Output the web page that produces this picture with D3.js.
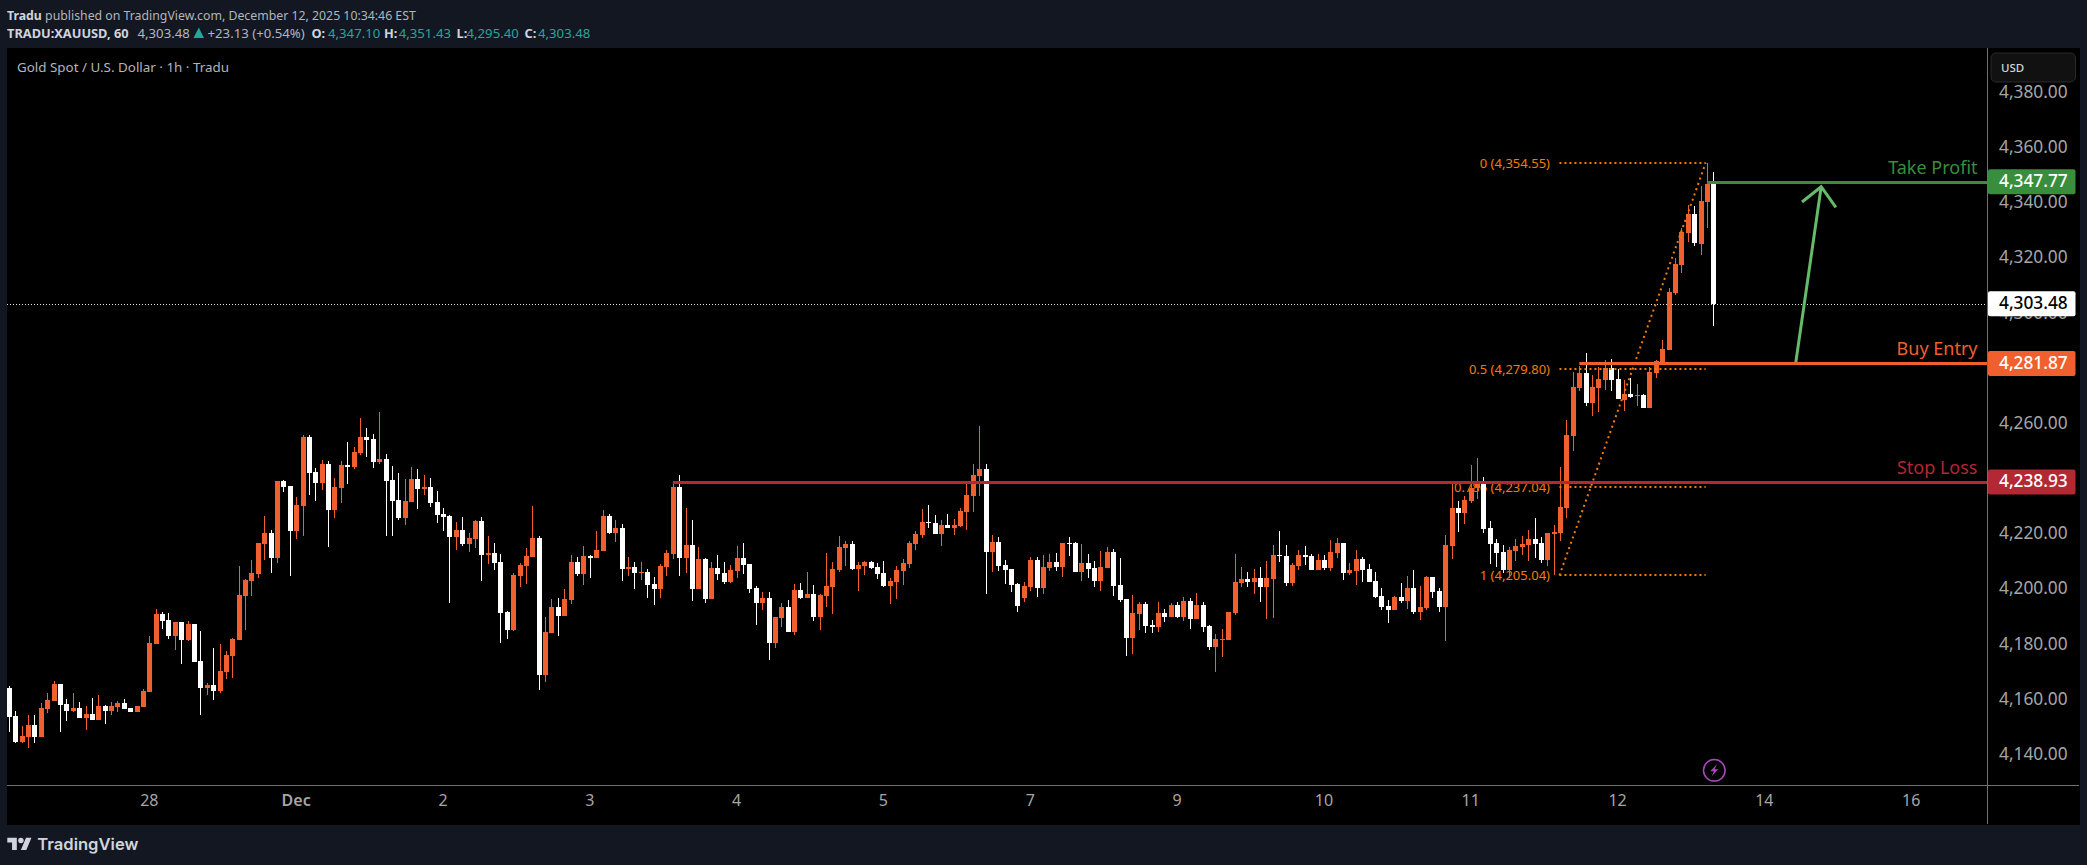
<!DOCTYPE html>
<html>
<head>
<meta charset="utf-8">
<script src="https://cdn.jsdelivr.net/npm/d3@7"></script>
<style>
	html, body { margin: 0; padding: 0; background: #131722; overflow: hidden; }
	text { font-family: "Noto Sans", sans-serif; }
</style>
</head>
<body>
<script>
// hourly candles, oldest first
var open = [
	4164.2,4154.0,4144.6,4146.4,4150.8,4146.4,4156.6,4159.5,4165.6,4158.4,
	4155.8,4156.9,4153.3,4154.8,4152.6,4157.6,4155.8,4157.3,4158.7,4156.9,
	4155.5,4157.3,4162.7,4180.1,4191.0,4188.8,4183.0,4188.1,4181.6,4187.4,
	4174.0,4164.2,4165.3,4163.1,4170.0,4175.8,4181.6,4197.5,4203.0,4205.5,
	4216.4,4220.4,4211.3,4239.2,4237.4,4221.1,4230.2,4255.2,4242.5,4238.5,
	4245.4,4228.7,4236.7,4245.0,4244.3,4249.4,4255.2,4254.5,4246.1,4247.2,
	4239.6,4232.3,4225.8,4231.6,4240.0,4236.3,4237.1,4231.6,4227.3,4226.5,
	4218.9,4221.5,4216.4,4218.2,4224.7,4212.4,4213.1,4209.9,4191.7,4185.2,
	4204.8,4208.4,4211.7,4218.6,4168.9,4184.1,4193.5,4190.3,4196.1,4209.9,
	4205.5,4212.0,4211.3,4213.8,4226.5,4220.4,4222.2,4207.3,4208.0,4205.9,
	4206.2,4201.9,4200.1,4208.0,4212.8,4237.1,4211.3,4216.0,4200.1,4211.0,
	4196.4,4207.7,4205.9,4202.6,4206.6,4211.3,4209.1,4200.4,4195.0,4196.8,
	4180.5,4189.6,4193.5,4184.5,4199.7,4196.8,4198.3,4189.9,4197.5,4200.8,
	4207.0,4214.9,4216.4,4207.3,4208.4,4209.9,4208.0,4205.9,4201.2,4202.6,
	4206.6,4209.1,4216.4,4219.6,4224.4,4224.0,4220.0,4223.3,4222.2,4222.9,
	4228.0,4233.8,4241.0,4243.6,4213.5,4217.1,4208.8,4207.3,4201.9,4196.8,
	4200.8,4210.6,4200.4,4207.7,4209.9,4208.0,4216.8,4216.8,4206.2,4209.5,
	4207.7,4203.0,4207.7,4213.5,4201.5,4196.4,4182.3,4191.0,4194.6,4187.0,
	4186.3,4191.4,4189.9,4194.3,4189.9,4195.7,4189.2,4194.3,4186.7,4179.0,
	4181.6,4181.6,4191.4,4202.2,4203.7,4202.6,4204.1,4200.8,4203.7,4212.4,
	4212.0,4202.2,4208.4,4212.4,4212.0,4207.0,4210.6,4207.7,4213.1,4216.8,
	4205.9,4206.6,4211.0,4207.3,4203.0,4197.5,4193.9,4192.5,4197.2,4195.7,
	4200.4,4191.7,4193.2,4204.4,4199.3,4193.5,4215.7,4229.4,4227.6,4232.0,
	4236.7,4238.1,4222.2,4216.8,4213.5,4207.0,4213.8,4215.3,4216.0,4218.2,
	4216.8,4210.6,4220.0,4220.4,4229.4,4255.5,4273.0,4278.4,4267.5,4273.0,
	4275.9,4280.2,4276.2,4268.6,4270.8,4270.1,4270.4,4265.7,4278.4,4282.4,
	4286.7,4307.4,4317.5,4329.2,4336.0,4325.2,4340.4,4347.10];
var high = [
	4164.9,4155.8,4150.4,4154.4,4154.4,4158.7,4162.4,4166.7,4165.6,4160.2,
	4162.4,4159.1,4157.6,4160.6,4161.6,4158.0,4159.1,4159.5,4160.2,4156.9,
	4157.6,4163.8,4183.0,4192.8,4191.7,4191.4,4188.1,4188.1,4188.5,4187.4,
	4184.8,4166.0,4178.7,4180.1,4177.6,4182.3,4208.4,4203.7,4210.6,4216.8,
	4226.5,4221.5,4239.2,4239.6,4237.4,4233.4,4255.9,4255.9,4243.9,4246.8,
	4246.5,4240.3,4246.5,4253.4,4251.6,4262.1,4258.4,4256.3,4264.2,4249.0,
	4244.7,4242.1,4240.0,4244.3,4243.6,4241.4,4240.3,4235.6,4229.4,4226.9,
	4224.4,4226.2,4220.4,4225.1,4226.2,4219.3,4216.8,4212.8,4192.1,4205.9,
	4209.5,4214.9,4230.2,4219.3,4189.9,4196.4,4196.8,4200.1,4212.4,4211.7,
	4215.7,4212.4,4221.1,4228.7,4227.3,4225.1,4223.6,4211.7,4209.9,4209.9,
	4207.3,4204.4,4209.1,4214.2,4238.5,4241.4,4229.4,4225.1,4215.3,4211.3,
	4209.9,4212.4,4209.9,4208.8,4215.7,4216.8,4209.1,4201.2,4199.0,4199.0,
	4189.9,4195.0,4196.1,4201.9,4202.2,4206.2,4201.5,4198.3,4213.1,4209.9,
	4219.3,4217.5,4217.5,4209.9,4210.2,4210.2,4209.5,4210.2,4204.1,4208.4,
	4211.0,4217.5,4221.1,4229.1,4230.5,4226.9,4225.1,4227.3,4225.5,4229.4,
	4238.9,4245.4,4259.2,4245.4,4219.6,4218.9,4210.6,4207.3,4202.2,4202.6,
	4211.7,4211.7,4212.4,4212.8,4213.1,4216.8,4218.9,4217.1,4216.4,4212.8,
	4210.2,4213.8,4215.3,4214.6,4211.3,4196.4,4197.9,4195.4,4195.4,4188.8,
	4195.4,4192.8,4195.0,4195.4,4197.2,4196.8,4198.6,4195.4,4187.0,4183.8,
	4185.6,4191.7,4212.8,4208.0,4206.2,4207.3,4208.0,4210.2,4216.0,4221.1,
	4216.0,4209.5,4214.2,4215.7,4212.8,4212.8,4212.4,4217.8,4218.6,4216.8,
	4209.5,4214.2,4211.7,4209.1,4206.2,4200.4,4196.1,4197.5,4202.2,4204.8,
	4207.0,4201.2,4204.8,4204.4,4200.4,4219.6,4238.5,4232.0,4233.8,4245.0,
	4247.6,4240.7,4224.7,4218.2,4216.0,4215.3,4218.2,4219.3,4221.5,4225.8,
	4218.9,4220.4,4223.3,4244.3,4261.3,4278.8,4280.9,4285.6,4277.7,4280.6,
	4283.1,4283.5,4279.8,4275.9,4276.7,4274.4,4270.8,4280.6,4283.1,4290.4,
	4309.2,4320.1,4331.0,4339.3,4338.9,4346.2,4354.5,4351.43];
var low = [
	4148.3,4144.2,4144.2,4142.4,4144.2,4146.4,4155.1,4159.5,4148.2,4152.2,
	4155.5,4153.3,4148.9,4152.6,4152.6,4151.1,4154.4,4155.5,4156.6,4155.5,
	4155.5,4157.3,4162.7,4180.1,4185.6,4181.9,4178.0,4172.9,4181.2,4173.6,
	4154.4,4161.6,4159.8,4162.4,4167.4,4167.8,4181.6,4185.2,4197.5,4204.1,
	4210.6,4205.9,4209.5,4235.2,4204.8,4218.2,4219.3,4234.2,4232.0,4236.0,
	4215.3,4225.8,4231.3,4238.1,4243.6,4248.7,4247.9,4243.9,4245.4,4219.3,
	4219.3,4225.1,4223.3,4231.6,4229.1,4234.2,4229.8,4224.0,4221.1,4195.0,
	4214.2,4215.7,4213.5,4214.9,4203.0,4209.1,4207.0,4180.5,4181.9,4184.8,
	4200.8,4201.9,4211.7,4163.5,4166.4,4184.1,4183.0,4190.3,4194.6,4204.8,
	4201.5,4204.1,4211.3,4213.8,4220.0,4217.1,4203.0,4204.8,4200.1,4203.3,
	4196.8,4194.3,4196.8,4204.8,4211.0,4204.8,4205.9,4195.7,4200.1,4195.0,
	4196.4,4203.3,4201.9,4202.2,4204.1,4205.5,4198.6,4187.0,4192.5,4174.3,
	4178.7,4186.3,4184.5,4183.4,4196.4,4196.8,4188.5,4185.2,4193.5,4191.0,
	4206.2,4208.4,4207.0,4199.3,4205.1,4207.3,4203.7,4200.8,4194.6,4196.4,
	4201.5,4207.7,4214.2,4218.6,4222.2,4220.0,4215.7,4222.2,4219.6,4222.6,
	4221.5,4228.0,4233.8,4198.3,4206.2,4206.6,4201.9,4199.0,4191.7,4195.4,
	4199.3,4197.2,4198.3,4206.6,4206.6,4204.4,4212.0,4206.2,4203.0,4204.1,
	4200.8,4199.3,4207.7,4197.5,4195.4,4175.8,4176.5,4185.2,4184.1,4184.1,
	4184.5,4188.1,4189.9,4189.6,4188.5,4185.6,4189.2,4184.5,4178.0,4170.0,
	4175.4,4181.6,4190.6,4200.8,4200.8,4198.3,4195.4,4189.2,4189.6,4209.9,
	4201.2,4201.2,4207.0,4208.8,4207.0,4207.0,4207.0,4206.6,4211.3,4203.3,
	4205.1,4201.5,4202.6,4202.6,4196.8,4192.5,4187.7,4192.5,4195.0,4192.8,
	4191.0,4188.8,4192.5,4196.8,4191.7,4181.2,4211.0,4220.7,4223.6,4231.3,
	4232.7,4220.4,4209.1,4208.0,4205.9,4204.1,4210.2,4212.4,4210.2,4211.3,
	4209.5,4208.4,4205.1,4217.5,4225.8,4250.1,4271.9,4266.4,4262.8,4264.2,
	4272.2,4271.9,4269.0,4264.6,4269.3,4266.4,4265.7,4265.7,4276.6,4282.0,
	4286.7,4306.7,4314.6,4325.9,4324.4,4321.2,4331.0,4295.40];
var close = [
	4153.8,4144.6,4146.8,4150.8,4146.4,4156.9,4159.8,4165.6,4158.0,4155.8,
	4156.9,4153.3,4154.8,4152.6,4157.6,4155.8,4157.6,4158.7,4156.6,4155.5,
	4157.6,4163.1,4180.5,4191.0,4188.5,4183.0,4188.1,4181.6,4187.4,4173.6,
	4164.2,4165.3,4163.1,4170.3,4176.1,4181.9,4197.9,4203.3,4205.9,4216.8,
	4220.4,4211.3,4239.2,4237.1,4221.1,4230.5,4255.2,4242.1,4238.5,4245.4,
	4228.7,4237.1,4245.0,4244.3,4249.7,4255.2,4254.1,4246.1,4247.2,4239.2,
	4232.0,4225.8,4232.0,4240.0,4236.3,4237.1,4231.3,4226.9,4226.2,4218.9,
	4221.5,4216.4,4218.6,4224.7,4212.4,4213.1,4209.5,4191.4,4185.2,4205.1,
	4208.8,4212.0,4218.6,4168.9,4184.5,4193.5,4190.3,4196.4,4209.9,4205.5,
	4212.0,4211.3,4214.2,4226.5,4220.4,4222.2,4207.3,4208.0,4205.9,4206.2,
	4201.5,4200.1,4208.4,4213.1,4237.1,4211.3,4216.0,4200.1,4211.0,4196.4,
	4207.7,4205.5,4202.6,4207.0,4211.3,4208.8,4200.1,4195.0,4196.8,4180.5,
	4189.9,4193.5,4184.5,4199.7,4196.8,4198.3,4189.9,4197.9,4201.2,4207.3,
	4215.3,4216.4,4207.3,4208.8,4209.9,4207.7,4205.5,4201.2,4203.0,4207.0,
	4209.5,4216.8,4220.0,4224.4,4224.0,4220.0,4223.3,4222.2,4223.3,4228.4,
	4234.2,4241.4,4243.6,4213.5,4217.1,4208.4,4207.0,4201.5,4193.9,4201.2,
	4210.6,4200.4,4208.0,4209.9,4208.0,4216.8,4216.4,4206.2,4209.5,4207.3,
	4203.0,4208.0,4213.5,4201.2,4196.1,4182.3,4191.4,4194.6,4186.7,4186.3,
	4191.4,4189.9,4194.3,4189.9,4195.7,4189.2,4194.3,4186.3,4179.0,4181.9,
	4181.9,4191.7,4202.6,4203.7,4202.6,4204.1,4200.8,4204.1,4212.4,4212.0,
	4202.2,4208.8,4212.4,4211.7,4207.0,4210.6,4207.7,4213.5,4216.8,4205.9,
	4207.0,4211.0,4207.0,4202.6,4197.2,4193.5,4192.5,4197.2,4195.7,4200.4,
	4191.7,4193.5,4204.4,4199.0,4193.5,4216.0,4229.4,4227.6,4232.3,4236.7,
	4238.1,4221.8,4216.4,4213.1,4207.0,4214.2,4215.7,4216.4,4218.2,4216.4,
	4210.6,4220.4,4220.7,4229.8,4255.9,4273.3,4278.4,4267.5,4273.3,4276.2,
	4280.2,4275.9,4269.0,4270.8,4269.7,4270.4,4265.7,4278.8,4282.7,4287.1,
	4307.8,4317.9,4329.5,4336.0,4325.5,4340.8,4346.9,4303.48];

// axes, 4,240 and 4,280 sit fully behind the level tags so they are left out
var price_ticks = [4140,4160,4180,4200,4220,4260,4300,4320,4340,4360,4380];
var time_ticks = [22,45,68,91,114,137,160,183,206,229,252,275,298];
var time_labels = ['28','Dec','2','3','4','5','7','9','10','11','12','14','16'];

// horizontal levels
var level_names = ['Take Profit','Buy Entry','Stop Loss'];
var level_prices = [4347.77,4281.87,4238.93];
var level_start_bars = [266,246,104];
var last_price = 4303.48;

// fibonacci drawing
var fib_ratios = ['0','0.5','0.786','1'];
var fib_prices = [4354.55,4279.80,4237.04,4205.04];
var fib_start_bar = 242.9;
var fib_end_bar = 265.8;

// arrow drawing, in bars and prices
var arrow_bars = [279.9,283.9,280.9,286.2];
var arrow_prices = [4281.87,4345.95,4340.4,4338.5];

// header readout
var readout_names = ['O:','H:','L:','C:'];
var readout_values = ['4,347.10','4,351.43','4,295.40','4,303.48'];

var width = 2087, height = 865;
var up_color = '#f05f2e', down_color = '#ffffff';
var level_colors = ['#388e3c','#f05f2e','#b22833'];
var fib_color = '#f57c00';
var axis_color = '#6f7072', tick_color = '#a6a6a6';
var fmt = d3.format(',.2f');

var x = d3.scaleLinear().domain([0,267]).range([8.9,1713.3]);
var y = d3.scaleLinear().domain([4380,4140]).range([92.8,754.8]);

var svg = d3.select('body').append('svg')
	.attr('width', width)
	.attr('height', height)
	.style('display', 'block');

// page and pane backgrounds
svg.append('rect').attr('width', width).attr('height', height).attr('fill', '#131722');
svg.append('rect').attr('x', 7).attr('y', 48).attr('width', 2073).attr('height', 777).attr('fill', '#000');

// header lines
var head1 = svg.append('text').attr('x', 7).attr('y', 19.5).attr('font-size', 12.3).attr('fill', '#b2b5be');
head1.append('tspan').attr('font-weight', 700).attr('fill', '#d1d4dc').text('Tradu');
head1.append('tspan').text(' published on TradingView.com, December 12, 2025 10:34:46 EST');

svg.append('text').attr('x', 7).attr('y', 37.5).attr('font-size', 12.8).attr('font-weight', 700).attr('fill', '#d1d4dc').text('TRADU:XAUUSD, 60');
svg.append('text').attr('x', 137.5).attr('y', 37.5).attr('font-size', 13.2).attr('fill', '#b2b5be').text('4,303.48');
svg.append('path').attr('d', 'M193.5 38L198.8 27.5L204 38Z').attr('fill', '#26a69a');
svg.append('text').attr('x', 207.5).attr('y', 37.5).attr('font-size', 13.2).attr('fill', '#b2b5be').text('+23.13 (+0.54%)');
[311.5,384,456.5,524.5].forEach(function(px, i) {
	svg.append('text').attr('x', px).attr('y', 37.5).attr('font-size', 12.8).attr('font-weight', 700).attr('fill', '#d1d4dc').text(readout_names[i]);
});
[328,398.7,466.5,538].forEach(function(px, i) {
	svg.append('text').attr('x', px).attr('y', 37.5).attr('font-size', 13.2).attr('fill', '#26a69a').text(readout_values[i]);
});

// chart legend
svg.append('text').attr('x', 17).attr('y', 71.5).attr('font-size', 13.4).attr('fill', '#b2b5be')
	.text('Gold Spot / U.S. Dollar \u00b7 1h \u00b7 Tradu');

// price axis
var price_axis = svg.append('g')
	.attr('transform', 'translate(1987,-1)')
	.call(d3.axisRight(y).tickValues(price_ticks).tickFormat(fmt).tickSize(0).tickPadding(12));
price_axis.select('.domain').remove();
price_axis.selectAll('text').attr('font-size', 17.3).attr('fill', tick_color).style('font-family', '"Noto Sans", sans-serif');

// time axis
var time_axis = svg.append('g')
	.attr('transform', 'translate(-0.5,785)')
	.call(d3.axisBottom(x).tickValues(time_ticks).tickFormat(function(d, i) { return time_labels[i]; }).tickSize(0).tickPadding(10));
time_axis.select('.domain').remove();
time_axis.selectAll('text')
	.attr('font-size', 16)
	.attr('fill', tick_color)
	.attr('font-weight', function(d, i) { return time_labels[i] == 'Dec' ? 600 : 400; })
	.style('font-family', '"Noto Sans", sans-serif');

// axis rules
svg.append('line').attr('x1', 7).attr('x2', 2079).attr('y1', 785.5).attr('y2', 785.5).attr('stroke', axis_color);
svg.append('line').attr('x1', 1987.5).attr('x2', 1987.5).attr('y1', 48).attr('y2', 824).attr('stroke', axis_color);

// fib labels sit under the candles
svg.append('g').selectAll('text')
	.data(fib_prices)
  .enter().append('text')
	.attr('x', 1550)
	.attr('y', function(d) { return y(d); })
	.attr('dy', '0.35em')
	.attr('text-anchor', 'end')
	.attr('font-size', 13)
	.attr('fill', fib_color)
	.text(function(d, i) { return fib_ratios[i] + ' (' + fmt(d) + ')'; });

// last price line
svg.append('line')
	.attr('x1', 7).attr('x2', 1987)
	.attr('y1', Math.round(y(last_price)) + 0.5).attr('y2', Math.round(y(last_price)) + 0.5)
	.attr('stroke', '#e8e8e8')
	.attr('stroke-dasharray', '1 2');

// candles
var candles = svg.append('g').selectAll('g')
	.data(close)
  .enter().append('g')
	.attr('fill', function(d, i) { return d >= open[i] ? up_color : down_color; });
candles.append('rect')
	.attr('x', function(d, i) { return Math.round(x(i)); })
	.attr('width', 1)
	.attr('y', function(d, i) { return Math.round(y(high[i])); })
	.attr('height', function(d, i) { return Math.max(1, Math.round(y(low[i])) - Math.round(y(high[i]))); });
candles.append('rect')
	.attr('x', function(d, i) { return Math.round(x(i)) - 2; })
	.attr('width', 5)
	.attr('y', function(d, i) { return Math.round(y(Math.max(d, open[i]))); })
	.attr('height', function(d, i) { return Math.max(1, Math.round(y(Math.min(d, open[i]))) - Math.round(y(Math.max(d, open[i])))); });

// fib dotted levels and trend line
svg.append('g').selectAll('line')
	.data(fib_prices)
  .enter().append('line')
	.attr('x1', x(fib_start_bar)).attr('x2', x(fib_end_bar))
	.attr('y1', function(d) { return Math.round(y(d)); }).attr('y2', function(d) { return Math.round(y(d)); })
	.attr('stroke', fib_color)
	.attr('stroke-width', 2)
	.attr('stroke-dasharray', '2 3');
svg.append('line')
	.attr('x1', x(fib_start_bar)).attr('x2', x(fib_end_bar))
	.attr('y1', y(fib_prices[3])).attr('y2', y(fib_prices[0]))
	.attr('stroke', fib_color)
	.attr('stroke-width', 2)
	.attr('stroke-dasharray', '2 3.6');

// arrow
svg.append('path')
	.attr('d', d3.line()([[x(arrow_bars[0]), y(arrow_prices[0])], [x(arrow_bars[1]), y(arrow_prices[1])]]))
	.attr('stroke', '#66bb6a').attr('stroke-width', 3).attr('fill', 'none');
svg.append('path')
	.attr('d', d3.line()([[x(arrow_bars[2]), y(arrow_prices[2])], [x(arrow_bars[1]), y(arrow_prices[1])], [x(arrow_bars[3]), y(arrow_prices[3])]]))
	.attr('stroke', '#66bb6a').attr('stroke-width', 3).attr('fill', 'none');

// horizontal levels with their names
level_prices.forEach(function(p, i) {
	svg.append('line')
		.attr('x1', x(level_start_bars[i])).attr('x2', 1987)
		.attr('y1', Math.round(y(p)) + 0.5).attr('y2', Math.round(y(p)) + 0.5)
		.attr('stroke', level_colors[i])
		.attr('stroke-width', 3);
	svg.append('text')
		.attr('x', 1977.5).attr('y', y(p) - 8)
		.attr('text-anchor', 'end')
		.attr('font-size', 18)
		.attr('fill', level_colors[i])
		.text(level_names[i]);
});

// price tags on the axis
function price_tag(p, fill, text_fill) {
	svg.append('rect')
		.attr('x', 1988).attr('y', y(p) - 12.5)
		.attr('width', 87.5).attr('height', 25)
		.attr('rx', 2)
		.attr('fill', fill);
	svg.append('text')
		.attr('x', 1999).attr('y', y(p) - 1)
		.attr('dy', '0.35em')
		.attr('font-size', 17.3)
		.attr('font-weight', 500)
		.attr('fill', text_fill)
		.text(fmt(p));
}
level_prices.forEach(function(p, i) { price_tag(p, level_colors[i], '#fff'); });
price_tag(last_price, '#fff', '#000');

// currency button
svg.append('rect')
	.attr('x', 1991).attr('y', 53)
	.attr('width', 84.5).attr('height', 29)
	.attr('rx', 5)
	.attr('fill', '#111')
	.attr('stroke', '#2a2a2a');
svg.append('text').attr('x', 2001).attr('y', 71.5).attr('font-size', 11.5).attr('font-weight', 500).attr('fill', '#d1d4dc').text('USD');

// marker under the last bar
svg.append('circle')
	.attr('cx', x(267) + 1).attr('cy', 770.3).attr('r', 10.8)
	.attr('fill', 'none').attr('stroke', '#ab47bc').attr('stroke-width', 1.5);
svg.append('path')
	.attr('transform', 'translate(' + (x(267) + 1) + ',770.3)')
	.attr('d', 'M2.5 -6L-4 1H-0.5L-2.5 6L4 -1H0.5Z')
	.attr('fill', '#ab47bc');

// logo
var logo = svg.append('g').attr('transform', 'translate(7.3,835) scale(0.68)').attr('fill', '#d1d4dc');
logo.append('path').attr('d', 'M14 22H7V11H0V4h14v18zM28 22h-8l7.5-18h8L28 22z');
logo.append('circle').attr('cx', 20).attr('cy', 8).attr('r', 4);
svg.append('text')
	.attr('x', 37.3).attr('y', 850)
	.attr('font-size', 16.6)
	.attr('font-weight', 600)
	.attr('fill', '#d1d4dc')
	.style('font-family', 'Inter, sans-serif')
	.text('TradingView');
</script>
</body>
</html>
